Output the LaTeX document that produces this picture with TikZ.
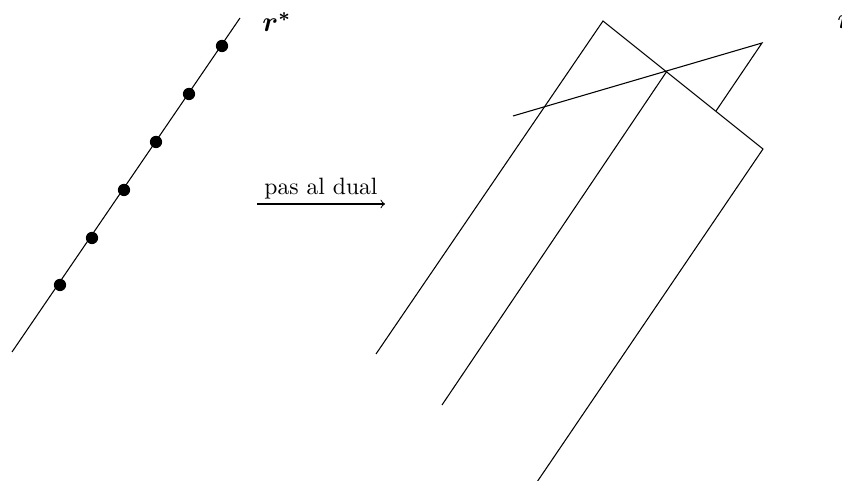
\documentclass[tikz,border=0pt]{standalone}
\begin{document}
\begin{tikzpicture}[x=0.423pt,y=-0.423pt,
  pt/.style={circle,fill=black,inner sep=0pt,minimum size=5.2pt},
  ln/.style={line width=0.45pt},
  lbl/.style={font=\large\boldmath}]
\useasboundingbox (0,0) rectangle (842,481);
% left line with points
\coordinate (l0) at (12,352);
\coordinate (l1) at (240,18);
\draw[ln] (l0) -- (l1);
\node[pt] (p1) at (60,285) {};
\node[pt] (p2) at (92,238) {};
\node[pt] (p3) at (124,190) {};
\node[pt] (p4) at (156,142) {};
\node[pt] (p5) at (189,94) {};
\node[pt] (p6) at (222,46) {};
\node[lbl,anchor=west,inner sep=0pt] (rs) at (262,22) {$r^*$};
% arrow
\coordinate (a0) at (257,204);
\coordinate (a1) at (385,204);
\draw[ln,->] (a0) -- node[above,inner sep=2pt] {pas al dual} (a1);
% right figure
\coordinate (A0) at (376,354);
\coordinate (A1) at (603,21);
\coordinate (A2) at (763,149);
\coordinate (A3) at (537,482);
\draw[ln] (A0) -- (A1) -- (A2) -- (A3);
\coordinate (B0) at (442,405);
\coordinate (B1) at (667,71);
\draw[ln] (B0) -- (B1);
\coordinate (C0) at (513,116);
\coordinate (C1) at (762,43);
\coordinate (C2) at (716,111);
\draw[ln] (C0) -- (C1) -- (C2);
\node[lbl,anchor=west,inner sep=0pt] (rr) at (837,22) {$r$};
\end{tikzpicture}
\end{document}
